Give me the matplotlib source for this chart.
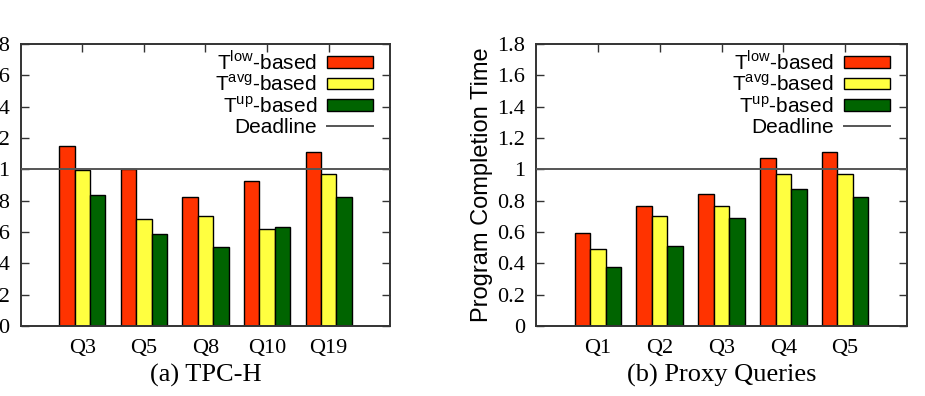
import matplotlib
matplotlib.use("Agg")
import matplotlib.pyplot as plt
import numpy as np
from matplotlib.patches import Patch
from matplotlib.lines import Line2D
from matplotlib.ticker import MultipleLocator, FormatStrFormatter

tpch_queries = ["Q3", "Q5", "Q8", "Q10", "Q19"]
tpch_low = [1.15, 1.00, 0.825, 0.925, 1.11]
tpch_avg = [0.995, 0.68, 0.70, 0.62, 0.968]
tpch_up = [0.836, 0.585, 0.506, 0.634, 0.821]

proxy_queries = ["Q1", "Q2", "Q3", "Q4", "Q5"]
proxy_low = [0.595, 0.768, 0.844, 1.074, 1.11]
proxy_avg = [0.489, 0.70, 0.768, 0.97, 0.968]
proxy_up = [0.378, 0.512, 0.689, 0.872, 0.821]

deadline = 1.0
series_labels = [r"T$^{\mathregular{low}}$-based", r"T$^{\mathregular{avg}}$-based",
                 r"T$^{\mathregular{up}}$-based"]
colors = ["#ff3300", "#ffff40", "#006400"]

SERIF = ["Liberation Serif", "DejaVu Serif"]
SANS = ["Liberation Sans", "DejaVu Sans"]
plt.rcParams["mathtext.fontset"] = "custom"
plt.rcParams["mathtext.rm"] = "Liberation Sans"


def draw_panel(ax, queries, series, caption):
    x = np.arange(1, len(queries) + 1)
    width = 0.25
    for k, (vals, color) in enumerate(zip(series, colors)):
        ax.bar(x + (k - 1) * width, vals, width, color=color,
               edgecolor="black", linewidth=1.0, zorder=2)
    ax.axhline(deadline, color="#555555", linewidth=1.4, zorder=3)

    ax.set_xlim(0, len(queries) + 1)
    ax.set_ylim(0, 1.8)
    ax.set_xticks(x)
    ax.set_xticklabels(queries, family=SERIF, fontsize=16)
    ax.yaxis.set_major_locator(MultipleLocator(0.2))
    ax.yaxis.set_major_formatter(FormatStrFormatter("%g"))
    for lab in ax.get_yticklabels():
        lab.set_family(SERIF)
        lab.set_fontsize(16)
    ax.tick_params(direction="in", top=True, right=True, length=6,
                   width=1.0, colors="#333333", labelcolor="black")
    ax.tick_params(axis="y", pad=8)
    ax.tick_params(axis="x", pad=9)
    for sp in ax.spines.values():
        sp.set_linewidth(1.4)
        sp.set_color("#333333")
    ax.set_ylabel("Program Completion Time", family=SANS, fontsize=17, labelpad=3)

    handles = [Patch(facecolor=c, edgecolor="black", linewidth=1.0) for c in colors]
    handles.append(Line2D([], [], color="#555555", linewidth=1.4))
    ax.legend(handles, series_labels + ["Deadline"], loc="upper right",
              bbox_to_anchor=(0.968, 1.0),
              frameon=False, markerfirst=False, prop={"family": SANS, "size": 15},
              handlelength=2.2, handleheight=0.5, handletextpad=0.5,
              labelspacing=0.05, borderaxespad=0.15, borderpad=0.1)

    ax.text(0.5, -0.174, caption, transform=ax.transAxes, ha="center", va="center",
            family=SERIF, fontsize=19)


fig = plt.figure(figsize=(9.25, 3.96), dpi=100)
W, H = 925, 396
ax1 = fig.add_axes([20.7 / W, 1 - 326 / H, 369.5 / W, 282 / H])
ax2 = fig.add_axes([536 / W, 1 - 326 / H, 371 / W, 282 / H])

draw_panel(ax1, tpch_queries, [tpch_low, tpch_avg, tpch_up], "(a) TPC-H")
draw_panel(ax2, proxy_queries, [proxy_low, proxy_avg, proxy_up], "(b) Proxy Queries")

fig.savefig("out.png", dpi=100)
